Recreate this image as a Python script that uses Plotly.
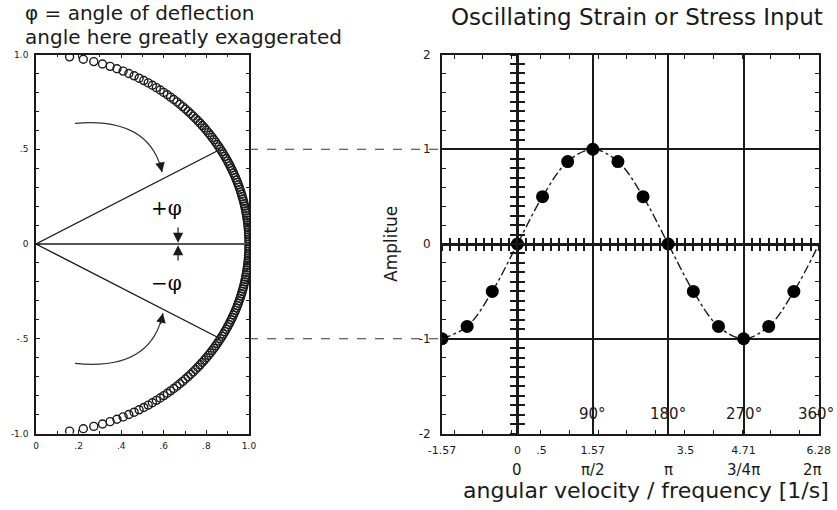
import numpy as np
import plotly.graph_objects as go

# ---------------- left panel: unit circle with deflection rays ----------------
circle_y = np.linspace(-0.9875, 0.9875, 159)          # evenly spaced heights on the arc
circle_x = np.sqrt(1.0 - circle_y ** 2)               # matching points on the unit circle

ray_x = [0.0, 0.866, None, 0.0, 0.866]                # +phi and -phi rays
ray_y = [0.0, 0.5, None, 0.0, -0.5]
base_ray_x = [0.0, 1.0]                               # reference ray at phi = 0
base_ray_y = [0.0, 0.0]

left_xtick_vals = [0, 0.2, 0.4, 0.6, 0.8, 1.0]
left_xtick_text = ["0", ".2", ".4", ".6", ".8", "1.0"]
left_ytick_vals = [-1.0, -0.5, 0, 0.5, 1.0]
left_ytick_text = ["-1.0", "-.5", "0", ".5", "1.0"]

# ---------------- right panel: sampled sinusoidal input ----------------
phase_deg = [-90, -60, -30, 0, 30, 60, 90, 120, 150, 180, 210, 240, 270, 300, 330]
amplitude = [-1.0, -0.87, -0.5, 0.0, 0.5, 0.87, 1.0, 0.87, 0.5, 0.0, -0.5, -0.87, -1.0, -0.87, -0.5]
trend_deg = phase_deg + [360]
trend_amp = amplitude + [0.0]

freq_tick_vals = [-1.57, 0, 0.5, 1.57, 3.5, 4.71, 6.28]
freq_tick_text = ["-1.57", "0", ".5", "1.57", "3.5", "4.71", "6.28"]
pi_label_vals = [0, 1.5708, 3.1416, 4.7124, 6.2832]
pi_label_text = ["0", "π/2", "π", "3/4π", "2π"]
degree_label_vals = [1.5708, 3.1416, 4.7124, 6.2832]
degree_label_text = ["90°", "180°", "270°", "360°"]
amp_tick_vals = [-2, -1, 0, 1, 2]
amp_tick_text = ["-2", "-1", "0", "1", "2"]
grid_x = [1.5708, 3.1416, 4.7124]

X_RANGE = [-1.5708, 6.2832]
Y_RANGE = [-2, 2]

# ---------------- layout geometry (paper fractions) ----------------
W, H = 837, 510
LX = [36 / W, 249 / W]
RX = [442 / W, 819 / W]
DY = [1 - 433.5 / H, 1 - 54.5 / H]
Y_ZERO_PAPER = (DY[0] + DY[1]) / 2
X_ZERO_PAPER = RX[0] + (0 - X_RANGE[0]) / (X_RANGE[1] - X_RANGE[0]) * (RX[1] - RX[0])

INK = "#1a1a1a"
FONT = "DejaVu Sans"

fig = go.Figure()

# left panel traces
fig.add_trace(go.Scatter(
    x=circle_x, y=circle_y, mode="markers", xaxis="x", yaxis="y",
    marker=dict(symbol="circle-open", size=8, color=INK, line=dict(width=1.4, color=INK)),
    hoverinfo="skip"))
fig.add_trace(go.Scatter(
    x=base_ray_x, y=base_ray_y, mode="lines", xaxis="x", yaxis="y",
    line=dict(color="#555", width=2), hoverinfo="skip"))
fig.add_trace(go.Scatter(
    x=ray_x, y=ray_y, mode="lines", xaxis="x", yaxis="y",
    line=dict(color=INK, width=1.4), hoverinfo="skip"))

# right panel traces
fig.add_trace(go.Scatter(
    x=np.radians(trend_deg), y=trend_amp, mode="lines", xaxis="x2", yaxis="y2",
    line=dict(color=INK, width=1.4, dash="dashdot", shape="spline"), hoverinfo="skip"))
fig.add_trace(go.Scatter(
    x=np.radians(phase_deg), y=amplitude, mode="markers", xaxis="x2", yaxis="y2",
    marker=dict(symbol="circle", size=13, color="black"), hoverinfo="skip"))

# placeholder traces so the overlay axes get their own subplots
for xa, ya in [("x3", "y2"), ("x4", "y2"), ("x5", "y2"), ("x6", "y2"), ("x2", "y3"), ("x2", "y4")]:
    fig.add_trace(go.Scatter(x=[], y=[], xaxis=xa, yaxis=ya, hoverinfo="skip"))

frame = dict(showline=True, linecolor=INK, showgrid=False, zeroline=False, fixedrange=True)

fig.update_layout(
    width=W, height=H,
    margin=dict(l=0, r=0, t=0, b=0, autoexpand=False),
    paper_bgcolor="white", plot_bgcolor="white",
    showlegend=False,
    font=dict(family=FONT, color=INK),
    xaxis=dict(**frame, domain=LX, range=[0, 1], anchor="y", linewidth=1.5, mirror="allticks",
               tickmode="array", tickvals=left_xtick_vals, ticktext=left_xtick_text,
               ticks="inside", ticklen=4, tickcolor=INK, tickfont=dict(size=9),
               minor=dict(tickmode="linear", tick0=0, dtick=0.1, ticks="inside", ticklen=3, tickcolor=INK),
               ticklabelstandoff=3),
    yaxis=dict(**frame, domain=DY, range=[-1, 1], anchor="x", linewidth=1.5, mirror="allticks",
               tickmode="array", tickvals=left_ytick_vals, ticktext=left_ytick_text,
               ticks="inside", ticklen=4, tickcolor=INK, tickfont=dict(size=9),
               minor=dict(tickmode="linear", tick0=0, dtick=0.1, ticks="inside", ticklen=3, tickcolor=INK),
               ticklabelstandoff=4),
    xaxis2=dict(showline=True, linecolor=INK, linewidth=2, mirror=True, fixedrange=True,
                domain=RX, range=X_RANGE, anchor="y2",
                tickmode="array", tickvals=grid_x, showticklabels=False, ticks="",
                showgrid=True, gridcolor=INK, gridwidth=1.5,
                zeroline=True, zerolinecolor=INK, zerolinewidth=3),
    yaxis2=dict(showline=True, linecolor=INK, linewidth=2, mirror="allticks", fixedrange=True,
                domain=DY, range=Y_RANGE, anchor="x2",
                tickmode="array", tickvals=amp_tick_vals, ticktext=amp_tick_text,
                ticks="inside", ticklen=4, tickcolor=INK, tickfont=dict(size=12),
                minor=dict(tickmode="linear", tick0=0, dtick=0.2, ticks="inside", ticklen=4, tickcolor=INK),
                showgrid=True, gridcolor=INK, gridwidth=1.5,
                zeroline=True, zerolinecolor=INK, zerolinewidth=2.5, ticklabelstandoff=7),
    # numeric frequency labels under the frame
    xaxis3=dict(overlaying="x2", anchor="y2", side="bottom", range=X_RANGE, fixedrange=True,
                tickmode="array", tickvals=freq_tick_vals, ticktext=freq_tick_text,
                ticks="", tickfont=dict(size=11), showgrid=False, zeroline=False, showline=False,
                ticklabelstandoff=8),
    # small ticks along top and bottom of the frame
    xaxis4=dict(overlaying="x2", anchor="y2", side="bottom", range=X_RANGE, fixedrange=True,
                tickmode="linear", tick0=-1.32, dtick=0.6, ticks="inside", ticklen=4, tickcolor=INK,
                mirror="ticks", showticklabels=False, showgrid=False, zeroline=False, showline=False),
    # cross ticks on the horizontal zero axis (every 10 degrees)
    xaxis5=dict(overlaying="x2", anchor="free", position=Y_ZERO_PAPER, range=X_RANGE, fixedrange=True,
                tickmode="linear", tick0=-np.pi / 2, dtick=np.pi / 18, ticks="outside", ticklen=6,
                tickwidth=1.6, tickcolor=INK, showticklabels=False, showgrid=False, zeroline=False,
                showline=False),
    xaxis6=dict(overlaying="x2", anchor="free", position=Y_ZERO_PAPER, range=X_RANGE, fixedrange=True,
                tickmode="linear", tick0=-np.pi / 2, dtick=np.pi / 18, ticks="inside", ticklen=6,
                tickwidth=1.6, tickcolor=INK, showticklabels=False, showgrid=False, zeroline=False,
                showline=False),
    # cross ticks on the vertical zero axis (every 0.1)
    yaxis3=dict(overlaying="y2", anchor="free", position=X_ZERO_PAPER, side="left", range=Y_RANGE,
                fixedrange=True, tickmode="linear", tick0=0, dtick=0.1, ticks="outside", ticklen=7,
                tickwidth=1.6, tickcolor=INK, showticklabels=False, showgrid=False, zeroline=False,
                showline=False),
    yaxis4=dict(overlaying="y2", anchor="free", position=X_ZERO_PAPER, side="left", range=Y_RANGE,
                fixedrange=True, tickmode="linear", tick0=0, dtick=0.1, ticks="inside", ticklen=7,
                tickwidth=1.6, tickcolor=INK, showticklabels=False, showgrid=False, zeroline=False,
                showline=False),
)

# dashed connectors from the circle to the amplitude extremes
for level in (0.5, -0.5):
    fig.add_shape(type="line", xref="paper", yref="y", x0=LX[1], x1=RX[0], y0=level, y1=level,
                  line=dict(color="#333", width=1, dash="dash"))

# curved rotation arrows
fig.add_shape(type="path", xref="x", yref="y", path="M 0.183,0.637 Q 0.533,0.672 0.592,0.379",
              line=dict(color="#333", width=1.2))
fig.add_shape(type="path", xref="x", yref="y", path="M 0.183,-0.63 Q 0.54,-0.672 0.596,-0.365",
              line=dict(color="#333", width=1.2))

arrow = dict(showarrow=True, text="", arrowhead=2, arrowwidth=1.2,
             arrowcolor=INK, xref="x", yref="y", axref="x", ayref="y")
fig.add_annotation(x=0.592, y=0.379, ax=0.580, ay=0.44, arrowsize=1.6, **arrow)
fig.add_annotation(x=0.596, y=-0.365, ax=0.584, ay=-0.43, arrowsize=1.6, **arrow)
fig.add_annotation(x=0.667, y=0.006, ax=0.667, ay=0.095, arrowsize=1.7, **arrow)
fig.add_annotation(x=0.667, y=-0.006, ax=0.667, ay=-0.095, arrowsize=1.7, **arrow)

# angle labels
fig.add_annotation(x=0.615, y=0.19, xref="x", yref="y", text="+φ", showarrow=False,
                   font=dict(family="DejaVu Serif", size=20, color="black"))
fig.add_annotation(x=0.612, y=-0.205, xref="x", yref="y", text="−φ", showarrow=False,
                   font=dict(family="DejaVu Serif", size=20, color="black"))

# headings
fig.add_annotation(x=23 / W, y=1 - 13 / H, xref="paper", yref="paper", xanchor="left",
                   yanchor="middle", text="φ = angle of deflection", showarrow=False,
                   font=dict(size=20))
fig.add_annotation(x=23 / W, y=1 - 37 / H, xref="paper", yref="paper", xanchor="left",
                   yanchor="middle", text="angle here greatly exaggerated", showarrow=False,
                   font=dict(size=20))
fig.add_annotation(x=637 / W, y=1 - 17 / H, xref="paper", yref="paper", xanchor="center",
                   yanchor="middle", text="Oscillating Strain or Stress Input", showarrow=False,
                   font=dict(size=23))

# axis titles
fig.add_annotation(x=391 / W, y=0, xref="paper", yref="y2", xanchor="center",
                   text="Amplitue", textangle=-90, showarrow=False, font=dict(size=17))
fig.add_annotation(x=646 / W, y=1 - 490 / H, xref="paper", yref="paper", xanchor="center",
                   yanchor="middle", text="angular velocity / frequency [1/s]", showarrow=False,
                   font=dict(size=22))

# degree marks inside the plot and multiples of pi beneath the axis
for xv, txt in zip(degree_label_vals, degree_label_text):
    fig.add_annotation(x=xv, y=1 - 414 / H, xref="x2", yref="paper", yanchor="middle",
                       text=txt, showarrow=False, xshift=-3 if txt == "360°" else 0,
                       font=dict(size=15))
for xv, txt in zip(pi_label_vals, pi_label_text):
    fig.add_annotation(x=xv, y=1 - 470 / H, xref="x2", yref="paper", yanchor="middle",
                       text=txt, showarrow=False, xshift=-7 if txt == "2π" else 0,
                       font=dict(size=15))

fig.write_html("out.html")
